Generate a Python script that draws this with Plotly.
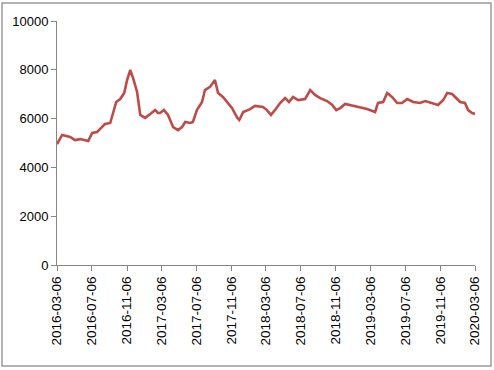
import plotly.graph_objects as go

dates = [
    "2016-03-06", "2016-03-24", "2016-04-21", "2016-05-08", "2016-05-26", "2016-06-12",
    "2016-06-23", "2016-07-07", "2016-07-24", "2016-08-10", "2016-08-21", "2016-09-08",
    "2016-09-18", "2016-09-29", "2016-10-13", "2016-10-27", "2016-11-06", "2016-11-17",
    "2016-11-27", "2016-12-11", "2016-12-22", "2017-01-08", "2017-01-26", "2017-02-12",
    "2017-02-22", "2017-03-01", "2017-03-15", "2017-03-29", "2017-04-16", "2017-05-03",
    "2017-05-17", "2017-05-28", "2017-06-14", "2017-06-24", "2017-07-08", "2017-07-26",
    "2017-08-05", "2017-08-23", "2017-09-09", "2017-09-20", "2017-10-07", "2017-10-25",
    "2017-11-08", "2017-11-26", "2017-12-03", "2017-12-17", "2018-01-10", "2018-01-27",
    "2018-02-24", "2018-03-10", "2018-03-24", "2018-04-07", "2018-04-25", "2018-05-12",
    "2018-05-26", "2018-06-09", "2018-06-27", "2018-07-21", "2018-08-08", "2018-08-25",
    "2018-09-12", "2018-10-06", "2018-10-24", "2018-11-07", "2018-11-21", "2018-12-08",
    "2019-01-05", "2019-01-30", "2019-02-23", "2019-03-23", "2019-04-02", "2019-04-20",
    "2019-05-04", "2019-05-21", "2019-06-08", "2019-06-25", "2019-07-13", "2019-08-03",
    "2019-08-27", "2019-09-14", "2019-10-08", "2019-10-29", "2019-11-16", "2019-11-30",
    "2019-12-17", "2019-12-28", "2020-01-14", "2020-01-31", "2020-02-11", "2020-02-25",
    "2020-03-06",
]
values = [
    4950, 5330, 5250, 5120, 5160, 5120,
    5080, 5410, 5450, 5650, 5780, 5820,
    6230, 6680, 6800, 7050, 7580, 7990,
    7660, 7090, 6150, 6030, 6190, 6350,
    6230, 6230, 6350, 6150, 5650, 5530,
    5650, 5860, 5820, 5860, 6350, 6680,
    7170, 7300, 7580, 7050, 6890, 6640,
    6430, 6030, 5940, 6270, 6390, 6520,
    6480, 6350, 6150, 6350, 6640, 6840,
    6680, 6890, 6760, 6800, 7170, 6970,
    6840, 6720, 6560, 6350, 6430, 6600,
    6520, 6480, 6390, 6270, 6640, 6680,
    7050, 6890, 6640, 6640, 6800, 6680,
    6640, 6720, 6640, 6560, 6760, 7050,
    7010, 6890, 6680, 6640, 6350, 6230,
    6190,
]
tick_dates = [
    "2016-03-06", "2016-07-06", "2016-11-06", "2017-03-06", "2017-07-06",
    "2017-11-06", "2018-03-06", "2018-07-06", "2018-11-06", "2019-03-06",
    "2019-07-06", "2019-11-06", "2020-03-06",
]
y_ticks = [0, 2000, 4000, 6000, 8000, 10000]
y_tick_text = ["0", "2000", "4000", "6000", "8000", "10000"]

fig = go.Figure()
fig.add_trace(go.Scatter(
    x=dates, y=values, mode="lines",
    line=dict(color="#BE4B48", width=2.6),
    showlegend=False,
))

L, R, T, B = 57, 19, 21, 105
W, H = 494, 370
pw, ph = W - L - R, H - T - B

fig.update_layout(
    width=W, height=H,
    margin=dict(l=L, r=R, t=T, b=B, autoexpand=False),
    paper_bgcolor="white", plot_bgcolor="white",
    font=dict(family="Liberation Sans, Arial, sans-serif", color="#000000"),
    xaxis=dict(
        type="date",
        range=["2016-03-06", "2020-03-06"],
        tickvals=tick_dates, ticktext=tick_dates,
        tickangle=-90,
        showgrid=False, zeroline=False,
        showline=True, linecolor="#868686", linewidth=1,
        ticks="outside", ticklen=5, tickcolor="#868686",
        tickfont=dict(size=13.5),
        automargin=False,
    ),
    yaxis=dict(
        range=[0, 10000],
        tickvals=y_ticks, ticktext=y_tick_text,
        showgrid=False, zeroline=False,
        showline=True, linecolor="#868686", linewidth=1,
        ticks="outside", ticklen=5, tickcolor="#868686",
        tickfont=dict(size=13),
        automargin=False,
    ),
    shapes=[dict(
        type="rect", xref="paper", yref="paper",
        x0=(2 - L) / pw, x1=(491 - L) / pw,
        y0=-(366 - (H - B)) / ph, y1=((H - B) - 3) / ph,
        line=dict(color="#9a9a9a", width=1.5),
        fillcolor="rgba(0,0,0,0)",
        layer="below",
    )],
)

fig.write_html(
    "out.html",
    config={"displayModeBar": False, "staticPlot": True},
    post_script="document.body.style.margin='0';document.body.style.overflow='hidden';",
)
